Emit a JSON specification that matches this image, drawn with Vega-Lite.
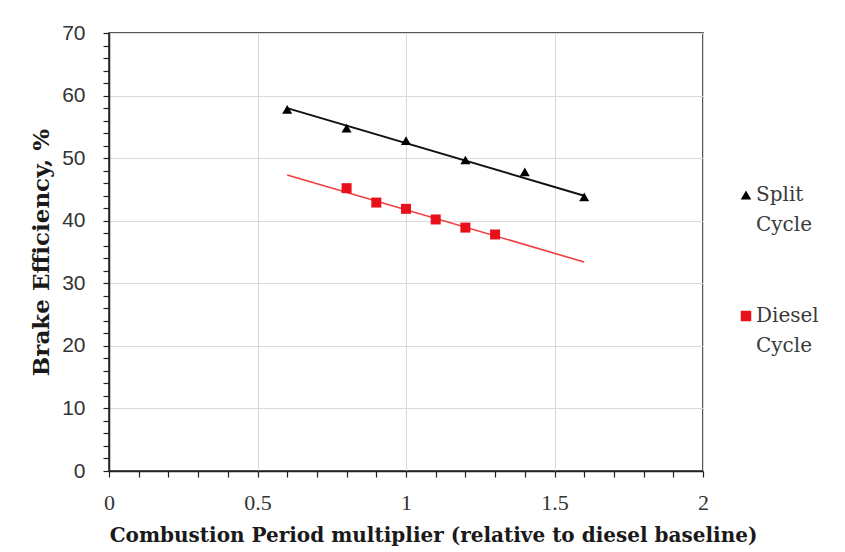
{
  "$schema": "https://vega.github.io/schema/vega-lite/v6.json",
  "width": 594,
  "height": 438,
  "autosize": "none",
  "padding": {"left": 109, "top": 33, "right": 142, "bottom": 81},
  "background": "white",
  "config": {
    "view": {"stroke": "#222222", "strokeWidth": 1.5},
    "font": "Liberation Serif",
    "style": {"guide-label": {"lineHeight": 30}}
  },
  "data": {
    "values": [
      {"series": "Split Cycle", "kind": "point", "x": 0.6, "y": 57.8},
      {"series": "Split Cycle", "kind": "point", "x": 0.8, "y": 54.8},
      {"series": "Split Cycle", "kind": "point", "x": 1.0, "y": 52.8},
      {"series": "Split Cycle", "kind": "point", "x": 1.2, "y": 49.7},
      {"series": "Split Cycle", "kind": "point", "x": 1.4, "y": 47.8},
      {"series": "Split Cycle", "kind": "point", "x": 1.6, "y": 43.8},
      {"series": "Diesel Cycle", "kind": "point", "x": 0.8, "y": 45.2},
      {"series": "Diesel Cycle", "kind": "point", "x": 0.9, "y": 42.9},
      {"series": "Diesel Cycle", "kind": "point", "x": 1.0, "y": 41.9},
      {"series": "Diesel Cycle", "kind": "point", "x": 1.1, "y": 40.2},
      {"series": "Diesel Cycle", "kind": "point", "x": 1.2, "y": 38.9},
      {"series": "Diesel Cycle", "kind": "point", "x": 1.3, "y": 37.8},
      {"series": "Split Cycle", "kind": "fit", "x": 0.6, "y": 58.0},
      {"series": "Split Cycle", "kind": "fit", "x": 1.6, "y": 44.0},
      {"series": "Diesel Cycle", "kind": "fit", "x": 0.6, "y": 47.3},
      {"series": "Diesel Cycle", "kind": "fit", "x": 1.6, "y": 33.4}
    ]
  },
  "encoding": {
    "x": {
      "field": "x",
      "type": "quantitative",
      "scale": {"domain": [0, 2], "nice": false, "zero": false},
      "axis": {
        "title": "Combustion Period multiplier (relative to diesel baseline)",
        "titleFont": "DejaVu Serif",
        "titleFontSize": 20,
        "titleFontWeight": "bold",
        "titleColor": "#1a1a1a",
        "titlePadding": 12,
        "titleX": 324,
        "values": [0, 0.1, 0.2, 0.3, 0.4, 0.5, 0.6, 0.7, 0.8, 0.9, 1, 1.1, 1.2, 1.3, 1.4, 1.5, 1.6, 1.7, 1.8, 1.9, 2],
        "labelExpr": "abs(datum.value * 2 - round(datum.value * 2)) < 0.001 ? format(datum.value, '~g') : ''",
        "labelFont": "Liberation Serif",
        "labelFontSize": 22,
        "labelColor": "#333333",
        "labelPadding": 15,
        "labelFlush": false,
        "labelOverlap": false,
        "domainColor": "#222222",
        "domainWidth": 1.5,
        "tickColor": "#222222",
        "tickWidth": 1.2,
        "tickSize": 6,
        "grid": true,
        "gridColor": "#d9d9d9",
        "gridWidth": 1,
        "gridOpacity": {"condition": {"test": "abs(datum.value * 2 - round(datum.value * 2)) < 0.001", "value": 1}, "value": 0}
      }
    },
    "y": {
      "field": "y",
      "type": "quantitative",
      "scale": {"domain": [0, 70], "nice": false},
      "axis": {
        "title": "Brake Efficiency, %",
        "titleFont": "DejaVu Serif",
        "titleFontSize": 23,
        "titleFontWeight": "bold",
        "titleColor": "#1a1a1a",
        "titlePadding": 8,
        "values": [0, 2, 4, 6, 8, 10, 12, 14, 16, 18, 20, 22, 24, 26, 28, 30, 32, 34, 36, 38, 40, 42, 44, 46, 48, 50, 52, 54, 56, 58, 60, 62, 64, 66, 68, 70],
        "labelExpr": "datum.value % 10 == 0 ? format(datum.value, 'd') : ''",
        "labelFont": "Liberation Sans",
        "labelFontSize": 21,
        "labelColor": "#333333",
        "labelPadding": 18,
        "labelFlush": false,
        "labelOverlap": false,
        "domainColor": "#222222",
        "domainWidth": 1.5,
        "tickColor": "#222222",
        "tickWidth": 1.2,
        "tickSize": 6,
        "grid": true,
        "gridColor": "#d9d9d9",
        "gridWidth": 1,
        "gridOpacity": {"condition": {"test": "datum.value % 10 == 0", "value": 1}, "value": 0}
      }
    }
  },
  "layer": [
    {
      "transform": [{"filter": "datum.kind == 'fit'"}],
      "mark": {"type": "line", "clip": false},
      "encoding": {
        "detail": {"field": "series"},
        "stroke": {"condition": {"test": "datum.series == 'Diesel Cycle'", "value": "#f03c3c"}, "value": "#111111"},
        "strokeWidth": {"condition": {"test": "datum.series == 'Diesel Cycle'", "value": 1.6}, "value": 2}
      }
    },
    {
      "transform": [{"filter": "datum.kind == 'point'"}],
      "mark": {"type": "point", "filled": true, "opacity": 1, "clip": false},
      "encoding": {
        "color": {
          "field": "series",
          "type": "nominal",
          "scale": {"domain": ["Split Cycle", "Diesel Cycle"], "range": ["#000000", "#e8101a"]},
          "legend": {
            "title": null,
            "orient": "none",
            "legendX": 627,
            "legendY": 152,
            "labelExpr": "split(datum.label, ' ')",
            "labelFont": "DejaVu Serif",
            "labelFontSize": 20,
            "labelColor": "#3a3a3a",
            "labelBaseline": "middle",
            "labelOffset": 0,
            "rowPadding": 71,
            "symbolSize": 110,
            "symbolOpacity": 1
          }
        },
        "shape": {
          "field": "series",
          "type": "nominal",
          "scale": {"domain": ["Split Cycle", "Diesel Cycle"], "range": ["triangle-up", "square"]}
        },
        "size": {"value": 100}
      }
    }
  ]
}
